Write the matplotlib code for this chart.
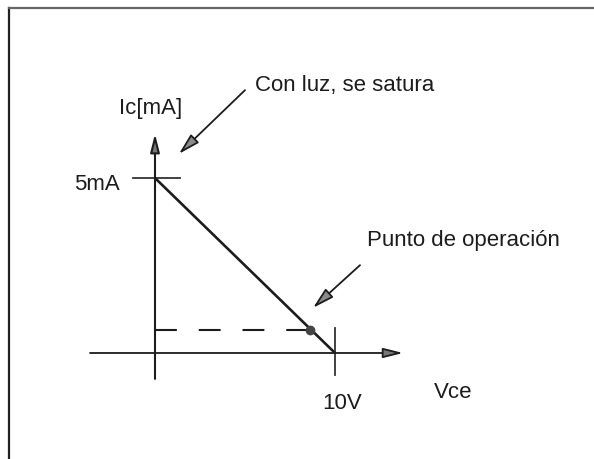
import matplotlib.pyplot as plt
from matplotlib.lines import Line2D

plt.rcParams['font.family'] = ['Liberation Sans', 'DejaVu Sans']

# recta de carga (Vce en V, Ic en mA)
v_load = [0, 10]
i_load = [5, 0]
# punto de operacion
v_q = 8.6
i_q = 0.65
# marcas de los ejes
tick_ic = 5
tick_vce = 10
label_ic = '5mA'
label_vce = '10V'
titulo_y = 'Ic[mA]'
titulo_x = 'Vce'
nota_sat = 'Con luz, se satura'
nota_op = 'Punto de operación'

ink = '#1c1c1c'

fig = plt.figure(figsize=(5.94, 4.59), dpi=100)
ax = fig.add_axes([0, 0, 1, 1])
ax.set_xlim(-8.611, 24.389)
ax.set_ylim(-3.029, 10.086)
ax.axis('off')

# marco del escaneo
fig.add_artist(Line2D([9/594, 9/594], [0, 1 - 7.5/459], transform=fig.transFigure,
                      color='#222222', lw=1.6))
fig.add_artist(Line2D([9/594, 1], [1 - 7.5/459, 1 - 7.5/459], transform=fig.transFigure,
                      color='#666666', lw=1.6))

# ejes con flecha
ax.annotate('', xy=(13.78, 0), xytext=(-3.61, 0),
            arrowprops=dict(arrowstyle='-|>,head_length=1.2,head_width=0.3',
                            color=ink, fc='#777777', lw=1.3, shrinkA=0, shrinkB=0))
ax.annotate('', xy=(0, 6.26), xytext=(0, -0.74),
            arrowprops=dict(arrowstyle='-|>,head_length=1.1,head_width=0.28',
                            color=ink, fc='#777777', lw=1.5, shrinkA=0, shrinkB=0))

# marcas 5mA y 10V
ax.plot([-1.22, 1.39], [tick_ic, tick_ic], color='#333333', lw=1.3)
ax.plot([tick_vce, tick_vce], [0.71, -0.63], color='#333333', lw=1.3)

# recta de carga
ax.plot(v_load, i_load, color=ink, lw=1.9, solid_capstyle='butt')

# linea discontinua hasta el punto Q
ax.plot([0, v_q], [i_q, i_q], color=ink, lw=1.5, dashes=(10.5, 10.5))
ax.plot([v_q], [i_q], 'o', color='#444444', ms=6)

# textos
fs = 16
ax.text(-0.22, 6.98, titulo_y, fontsize=fs, color=ink, ha='center', va='center')
ax.text(-1.94, 4.8, label_ic, fontsize=fs, color=ink, ha='right', va='center')
ax.text(10.39, -1.43, label_vce, fontsize=fs, color=ink, ha='center', va='center')
ax.text(16.56, -1.14, titulo_x, fontsize=fs, color=ink, ha='center', va='center')

# anotaciones con flecha
ap = dict(arrowstyle='-|>,head_length=1.3,head_width=0.35', color=ink,
          fc='#8a8a8a', lw=1.3, shrinkA=0, shrinkB=0)
ax.annotate('', xy=(1.33, 5.69), xytext=(5.0, 7.51), arrowprops=ap)
ax.text(5.56, 7.64, nota_sat, fontsize=fs, color=ink, ha='left', va='center')
ax.annotate('', xy=(8.78, 1.29), xytext=(11.39, 2.51), arrowprops=ap)
ax.text(11.78, 3.22, nota_op, fontsize=fs, color=ink, ha='left', va='center')

fig.savefig('out.png', dpi=100)
